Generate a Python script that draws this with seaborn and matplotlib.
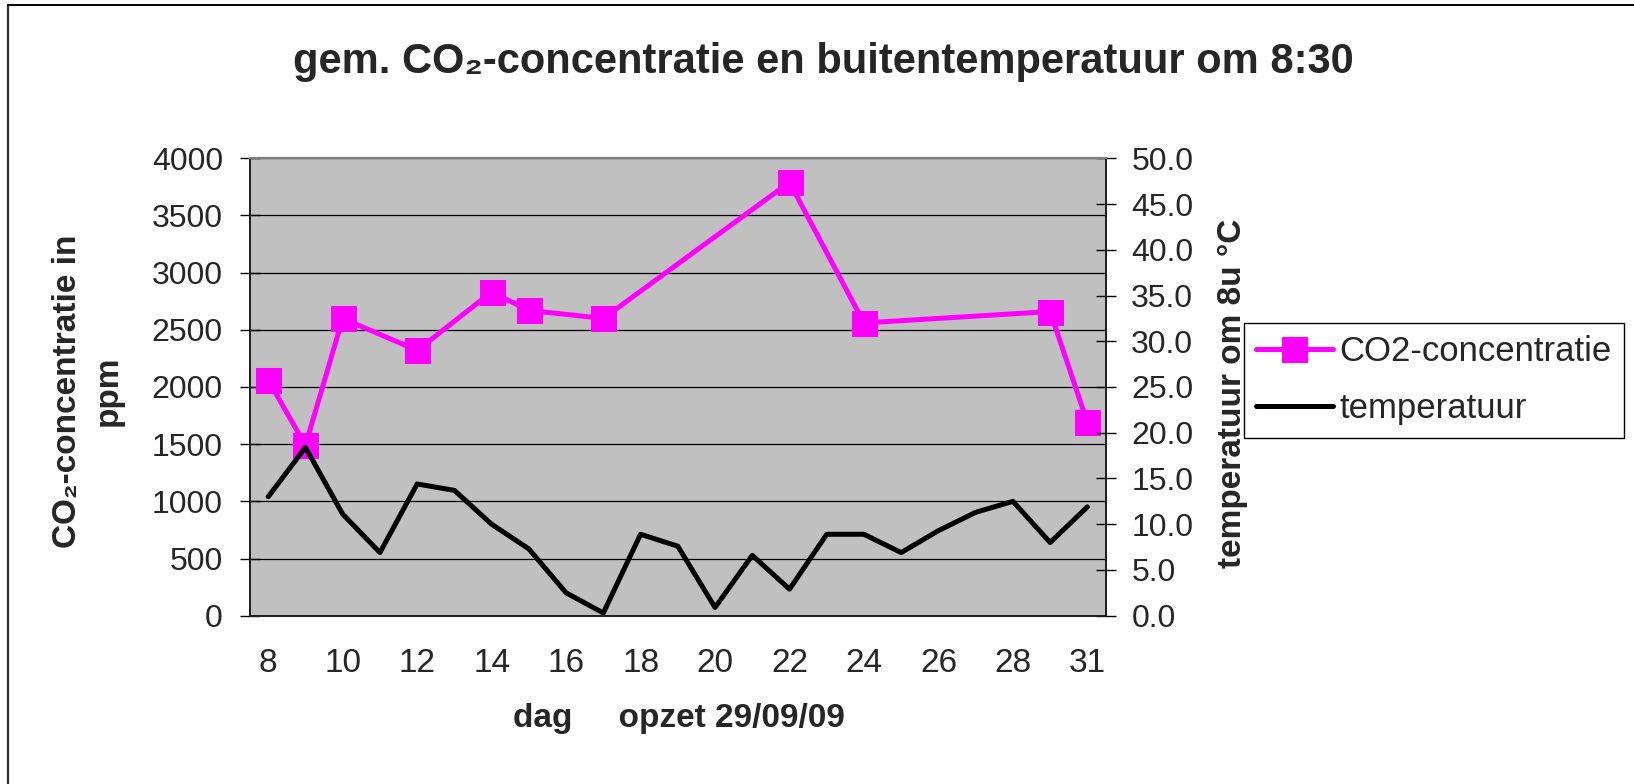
import matplotlib
matplotlib.use("Agg")
import matplotlib.pyplot as plt
import seaborn as sns
from matplotlib.lines import Line2D
from matplotlib.ticker import FixedLocator, FixedFormatter, FormatStrFormatter

# days on the category axis (30 is missing in the data)
days = ['8', '9', '10', '11', '12', '13', '14', '15', '16', '17', '18', '19',
        '20', '21', '22', '23', '24', '25', '26', '27', '28', '29', '31']
# outside temperature at 8u, one value per day
temperature = [13.0, 18.4, 11.1, 6.9, 14.4, 13.7, 10.0, 7.3, 2.5, 0.3, 8.9, 7.6,
               0.9, 6.6, 2.9, 8.9, 8.9, 6.9, 9.3, 11.3, 12.5, 8.0, 11.9]
# CO2 only measured on some days
co2_days = ['8', '9', '10', '12', '14', '15', '17', '22', '24', '29', '31']
co2 = [2060, 1490, 2600, 2320, 2830, 2670, 2600, 3790, 2560, 2660, 1690]

co2_yticks = [0, 500, 1000, 1500, 2000, 2500, 3000, 3500, 4000]
temp_yticks = [0, 5, 10, 15, 20, 25, 30, 35, 40, 45, 50]

sns.set_style("white")
plt.rcParams['font.family'] = ['Liberation Sans', 'DejaVu Sans']

W, H = 1634, 784
fig = plt.figure(figsize=(W / 100, H / 100), dpi=100)
fig.patch.set_facecolor('white')

# plot area in pixel coords of the reference
left, right, top, bottom = 249.6, 1106, 158.3, 615.7
ax = fig.add_axes([left / W, 1 - bottom / H, (right - left) / W, (bottom - top) / H])
ax.set_facecolor('#C0C0C0')

pos = list(range(len(days)))
co2_pos = [days.index(d) for d in co2_days]

sns.lineplot(x=co2_pos, y=co2, ax=ax, color='#FF00FF', lw=3.6, marker='s',
             markersize=18, markeredgecolor='#FF00FF', label='CO2-concentratie')
ax.set_ylim(0, 4000)
ax.set_xlim(-0.5, len(days) - 0.5)
ax.set_yticks(co2_yticks)
ax.yaxis.grid(True, color='black', lw=0.9)
ax.set_axisbelow(True)

ax2 = ax.twinx()
sns.lineplot(x=pos, y=temperature, ax=ax2, color='black', lw=3.6, label='temperatuur')
ax2.set_ylim(0, 50)
ax2.set_yticks(temp_yticks)
ax2.yaxis.set_major_formatter(FormatStrFormatter('%.1f'))

# x axis: ticks between categories, labels at every other category
ax.xaxis.set_major_locator(FixedLocator([p - 0.5 for p in pos] + [len(days) - 0.5]))
ax.xaxis.set_major_formatter(FixedFormatter([]))
ax.xaxis.set_minor_locator(FixedLocator(pos[::2]))
ax.xaxis.set_minor_formatter(FixedFormatter(days[::2]))
ax.tick_params(axis='x', which='major', direction='inout', length=14.4, width=1, color='black')
ax.tick_params(axis='x', which='minor', length=0, pad=23, labelsize=24)
ax.tick_params(axis='y', direction='inout', length=14.4, width=1, color='black', pad=12, labelsize=23, left=True)
ax2.tick_params(axis='y', direction='inout', length=14.4, width=1, color='black', pad=11, labelsize=23, right=True)
ax.set_xlabel('')
ax.set_ylabel('')
ax2.set_ylabel('')

for a in (ax, ax2):
    for s in ('left', 'right', 'bottom'):
        a.spines[s].set_color('#202020')
        a.spines[s].set_linewidth(1.3)
    a.spines['top'].set_color('#808080')
    a.spines['top'].set_linewidth(1.5)

# legend outside, right of the chart
h1, l1 = ax.get_legend_handles_labels()
h2, l2 = ax2.get_legend_handles_labels()
ax.get_legend().remove()
ax2.get_legend().remove()
leg = fig.legend(h1 + h2, l1 + l2, loc='upper left', bbox_to_anchor=(1244 / W, 1 - 323 / H),
                 frameon=True, fancybox=False, edgecolor='black', fontsize=25,
                 handlelength=2.2, handletextpad=0.2, borderpad=0.35, labelspacing=0.7,
                 borderaxespad=0, framealpha=1)
leg.get_frame().set_linewidth(1.0)

# texts
fig.text(823 / W, 1 - 62 / H, 'gem. CO\u2082-concentratie en buitentemperatuur om 8:30',
         ha='center', va='center', fontsize=30, fontweight='bold')
fig.text(679 / W, 1 - 719 / H, 'dag     opzet 29/09/09',
         ha='center', va='center', fontsize=24, fontweight='bold')
fig.text(88 / W, 1 - 391 / H, 'CO\u2082-concentratie in\nppm', rotation=90,
         ha='center', va='center', multialignment='center', linespacing=1.4,
         fontsize=24, fontweight='bold')
fig.text(1232 / W, 1 - 393 / H, 'temperatuur om 8u \u00b0C', rotation=90,
         ha='center', va='center', fontsize=24, fontweight='bold')

# chart border (only left and top visible in the crop)
fig.add_artist(Line2D([8 / W, 8 / W], [0, 1 - 5 / H], color='#303030', lw=1.6))
fig.add_artist(Line2D([8 / W, 1], [1 - 5 / H, 1 - 5 / H], color='black', lw=1.4))

fig.savefig('out.png', dpi=100, facecolor='white')
